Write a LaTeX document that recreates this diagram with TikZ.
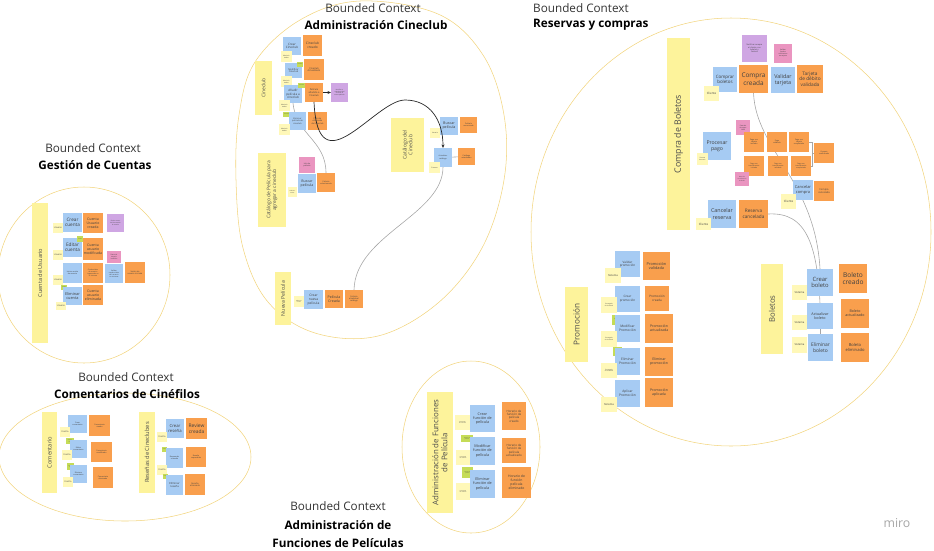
\documentclass[tikz,border=0pt]{standalone}
\usepackage{fontspec}
\setmainfont{Open Sans}
\usepackage{tikz}
\usetikzlibrary{arrows.meta}
\definecolor{ctxyellow}{HTML}{FDF39B}
\definecolor{actyellow}{HTML}{FFF8B8}
\definecolor{cmdblue}{HTML}{A6CBF3}
\definecolor{evtorange}{HTML}{F99F4D}
\definecolor{polpurple}{HTML}{CFA6E3}
\definecolor{hotpink}{HTML}{EA95C0}
\definecolor{agggreen}{HTML}{C5DC57}
\definecolor{bcgold}{HTML}{F2D47C}
\pgfdeclarelayer{bg}
\pgfsetlayers{bg,main}

\begin{document}
\begin{tikzpicture}[x=0.03cm,y=-0.03cm,
  wh/.style 2 args={minimum width=#1*0.03cm,minimum height=#2*0.03cm},
  fs/.style={font=\fontsize{#1}{#1}\linespread{1.15}\selectfont},
  note/.style={inner sep=0.3pt,outer sep=0pt,align=center,text=black!75},
  cmd/.style={note,fill=cmdblue},
  evt/.style={note,fill=evtorange},
  actor/.style={note,fill=actyellow,fs=1.4},
  pol/.style={note,fill=polpurple,fs=1.4},
  hot/.style={note,fill=hotpink,fs=1.4},
  agg/.style={note,fill=agggreen,fs=1},
  ctx/.style={note,fill=ctxyellow,rotate=90,text=black!70},
  bc/.style={draw=bcgold,line width=0.45pt},
  link/.style={draw=black!35,line width=0.5pt},
  flow/.style={draw=black!85,line width=0.6pt,-{Stealth[length=3pt,width=2.5pt]}},
  bctop/.style={font=\fontsize{10}{12}\selectfont,text=black!80,inner sep=0pt},
  bcname/.style={font=\fontsize{10}{12}\selectfont\bfseries,text=black,inner sep=0pt}]
  \useasboundingbox (0,0) rectangle (934,550);

  \node[bctop] (bcCuA) at (93,148) {Bounded Context};
  \node[bcname] (bcCuB) at (95,165) {Gestión de Cuentas};
  \node[bctop] (bcCcA) at (373,8) {Bounded Context};
  \node[bcname] (bcCcB) at (376,25) {Administración Cineclub};
  \node[bctop,anchor=west] (bcRcA) at (533,8) {Bounded Context};
  \node[bcname,anchor=west] (bcRcB) at (533,25) {Reservas y compras};
  \node[bctop] (bcCoA) at (126,377) {Bounded Context};
  \node[bcname] (bcCoB) at (127,394) {Comentarios de Cinéfilos};
  \node[bctop] (bcFuA) at (338,506) {Bounded Context};
  \node[bcname] (bcFuB) at (338,525) {Administración de};
  \node[bcname] (bcFuC) at (338,543) {Funciones de Películas};
  \node[font=\fontsize{10.5}{12}\selectfont,text=black!35] (miroMark) at (897,523) {miro};

  \node[ctx,wh={140}{16},fs=4.8] (cuBar) at (40,273) {Cuenta de Usuario};
  \node[cmd,wh={19}{19},fs=4] (cuCrear) at (72.5,222.5) {Crear\\cuenta};
  \node[evt,wh={20}{20},fs=3] (cuCreada) at (93,223) {Cuenta\\Usuario\\creada};
  \node[pol,wh={17}{18},fs=1.3] (cuPol) at (115.5,223) {Enviar correo\\de bienvenida\\al usuario};
  \node[actor,wh={10}{10},fs=1.9] (cuUs1) at (58,228) {Usuario};
  \node[cmd,wh={19}{19},fs=4] (cuEditar) at (72.5,247.5) {Editar\\cuenta};
  \node[agg,wh={6}{6}] (cuAgg1) at (80,239) {Cuenta};
  \node[evt,wh={20}{22},fs=3] (cuModif) at (93,249) {Cuenta\\usuario\\modificada};
  \node[hot,wh={14}{12}] (cuHot) at (114,257) {Datos de\\usuario\\inválidos};
  \node[actor,wh={10}{10},fs=1.9] (cuUs2) at (58,255) {Usuario};
  \node[cmd,wh={19}{20},fs=1.6] (cuLogin) at (72.5,273) {Iniciar sesión\\de usuario};
  \node[evt,wh={20}{20},fs=1.5] (cuSesion) at (93,273) {Credenciales\\de usuario\\ingresadas en\\el sistema};
  \node[cmd,wh={18}{19},fs=1.5] (cuValidar) at (114,273.5) {Validar\\credenciales\\del usuario\\en sistema};
  \node[evt,wh={20}{21},fs=1.7] (cuValidada) at (135,272.5) {Sesión de\\usuario iniciada};
  \node[actor,wh={10}{10},fs=1.9] (cuUs3) at (58,280) {Usuario};
  \node[agg,wh={6}{5}] (cuAgg2) at (64,287.5) {Cuenta};
  \node[cmd,wh={19}{18},fs=3.3] (cuEliminar) at (72.5,296) {Eliminar\\cuenta};
  \node[evt,wh={20}{20},fs=3] (cuEliminada) at (93,295) {Cuenta\\usuario\\eliminada};
  \node[actor,wh={10}{8},fs=1.9] (cuUs4) at (61,306) {Usuario};

  \node[ctx,wh={54}{17},fs=4.2] (ccBar) at (263.5,88) {Cineclub};
  \node[cmd,wh={18}{18},fs=2.6] (ccCrear) at (292,46) {Crear\\Cineclub};
  \node[evt,wh={19}{21},fs=2.8] (ccCreado) at (312.5,45.5) {Cineclub\\creado};
  \node[actor,wh={11}{11}] (ccAd1) at (286.5,56.5) {Adminis-\\trador};
  \node[cmd,wh={17}{15},fs=2] (ccModif) at (293.5,70.5) {Modificar\\Cineclub};
  \node[agg,wh={6}{5}] (ccAgg1) at (300,64.5) {Cineclub};
  \node[evt,wh={20}{21},fs=2] (ccActualizado) at (314,69.5) {Cineclub\\Actualizado};
  \node[actor,wh={11}{11}] (ccAd2) at (286.5,81.5) {Adminis-\\trador};
  \node[cmd,wh={18}{18},fs=2.6] (ccAnadir) at (293,94) {Añadir\\película a\\cineclub};
  \node[agg,wh={7}{5}] (ccAgg2) at (301.5,85.5) {Cineclub};
  \node[evt,wh={18}{19},fs=2] (ccAnadida) at (314,92.5) {Película\\añadida a\\Cineclub};
  \node[pol,wh={17}{19},fs=1.3] (ccPol) at (339.5,92.5) {Notificar a\\miembros del\\cineclub la\\nueva película};
  \node[actor,wh={11}{11}] (ccAd3) at (284.5,105.5) {Adminis-\\trador};
  \node[agg,wh={7}{5}] (ccAgg3) at (286.5,114.5) {Cineclub};
  \node[cmd,wh={17}{18},fs=1.8] (ccEliminar) at (297.5,121) {Eliminar\\película de\\cineclub};
  \node[evt,wh={19}{18},fs=1.8] (ccEliminada) at (317.5,121) {Película\\eliminada\\del cineclub};
  \node[actor,wh={11}{11}] (ccAd4) at (284.5,129.5) {Adminis-\\trador};

  \node[ctx,wh={54}{33},fs=4.3] (catBar) at (407.5,145) {Catálogo del\\Cineclub};
  \node[cmd,wh={18}{18},fs=3.1] (catBuscar) at (449,126) {Buscar\\película};
  \node[evt,wh={17}{16},fs=1.6] (catEncontrada) at (468.5,125) {Película\\encontrada};
  \node[actor,wh={10}{10}] (catUs) at (435,133) {Usuario};
  \node[cmd,wh={18}{19},fs=1.6] (catAct) at (443,157.5) {Actualizar\\catálogo};
  \node[evt,wh={17}{17},fs=1.6] (catActualizado) at (466.5,156.5) {Catálogo\\actualizado};
  \node[actor,wh={11}{11}] (catSis) at (434.5,167.5) {Sistema};

  \node[ctx,wh={74}{28},fs=4.2] (agBar) at (272,190) {Catálogo de Película para\\agregar a cineclub};
  \node[hot,wh={16}{16},fs=1.6] (agInfo) at (307,165) {Info de\\película};
  \node[cmd,wh={18}{19},fs=3] (agBuscar) at (307,183.5) {Buscar\\película};
  \node[evt,wh={18}{19},fs=1.6] (agSelec) at (326,182.5) {Película\\seleccionada};
  \node[actor,wh={9}{10},fs=1.2] (agAd) at (292.5,192) {Adminis-\\trador};

  \node[ctx,wh={53}{16},fs=4.4] (npBar) at (283,298.5) {Nueva Película};
  \node[actor,wh={10}{11},fs=1.2] (npAd) at (299,301.5) {Adminis-\\trador};
  \node[cmd,wh={19}{19},fs=2.8] (npCrear) at (313.5,299.5) {Crear\\nueva\\película};
  \node[evt,wh={18}{18},fs=3] (npCreada) at (334,299) {Película\\Creada};
  \node[evt,wh={18}{18},fs=1.7] (npCatalogo) at (354,299) {Película\\añadida al\\catálogo};

  \node[ctx,wh={192}{23},fs=7.5] (cbBar) at (678.5,134) {Compra de Boletos};
  \node[pol,wh={25}{27},fs=1.7] (cbPol) at (754.5,48.5) {Notificar compra\\al cliente, con\\boletos y\\factura};
  \node[hot,wh={18}{19},fs=1.5] (cbHot1) at (783,53.5) {Validar\\fondos\\suficientes\\en tarjeta};
  \node[cmd,wh={24}{25},fs=3.8] (cbComprar) at (725,79.5) {Comprar\\boletos};
  \node[evt,wh={29}{28},fs=5.5] (cbCreada) at (753.5,79) {Compra\\creada};
  \node[cmd,wh={24}{26},fs=4.6] (cbValidar) at (783,80) {Validar\\tarjeta};
  \node[evt,wh={26}{28},fs=4.1] (cbValidada) at (810,79) {Tarjeta\\de débito\\validada};
  \node[actor,wh={15}{15},fs=2.5] (cbCli1) at (711.5,93.5) {Cliente};
  \node[hot,wh={14}{15}] (cbHot2) at (743,127.5) {Pasarela\\de pagos\\caída};
  \node[cmd,wh={28}{28},fs=4.4] (cbProcesar) at (717,146) {Procesar\\pago};
  \node[actor,wh={11}{12},fs=1.3] (cbSis) at (702.5,159) {Sistema\\bancario};
  \node[evt,wh={20}{20},fs=1.6] (cbP1) at (754,142) {Pago con\\tarjeta\\iniciado};
  \node[evt,wh={20}{20},fs=1.6] (cbP2) at (777,142) {Pago\\validado};
  \node[evt,wh={20}{20},fs=1.6] (cbP3) at (799,142) {Pago con\\tarjeta\\completado};
  \node[evt,wh={20}{20},fs=1.6] (cbConf) at (824,153) {Compra\\confirmada};
  \node[evt,wh={20}{20},fs=1.5] (cbP4) at (754,166) {Pago con\\transferencia\\iniciado};
  \node[evt,wh={20}{20},fs=1.5] (cbP5) at (778,166) {Pago con\\transferencia\\validado};
  \node[evt,wh={20}{20},fs=1.5] (cbP6) at (801,166) {Pago con\\transferencia\\completado};
  \node[hot,wh={14}{14},fs=1.2] (cbHot3) at (742,179) {Datos de\\transferencia\\inválidos};
  \node[cmd,wh={20}{20},fs=3.4] (cbCancelar) at (803,190) {Cancelar\\compra};
  \node[evt,wh={20}{20},fs=2.1] (cbCancelada) at (824,191) {Compra\\cancelada};
  \node[actor,wh={15}{15},fs=2.5] (cbCli2) at (788.5,201.5) {Cliente};
  \node[cmd,wh={28}{28},fs=4.6] (cbCancRes) at (722,214) {Cancelar\\reserva};
  \node[evt,wh={29}{28},fs=4] (cbResCanc) at (753.5,214) {Reserva\\cancelada};
  \node[actor,wh={15}{12},fs=2.5] (cbCli3) at (703.5,224) {Cliente};

  \node[ctx,wh={90}{22},fs=6.6] (boBar) at (772,309) {Boletos};
  \node[cmd,wh={26}{27},fs=5] (boCrear) at (820,282.5) {Crear\\boleto};
  \node[evt,wh={28}{29},fs=5.6] (boCreado) at (853,278.5) {Boleto\\creado};
  \node[actor,wh={15}{15},fs=2.3] (boSis1) at (799.5,292.5) {Sistema};
  \node[cmd,wh={26}{26},fs=3.2] (boAct) at (820,316) {Actualizar\\boleto};
  \node[evt,wh={28}{29},fs=3.1] (boActualizado) at (855,313.5) {Boleto\\actualizado};
  \node[actor,wh={15}{15},fs=2.3] (boSis2) at (799.5,322.5) {Sistema};
  \node[cmd,wh={25}{27},fs=4.2] (boElim) at (820.5,347.5) {Eliminar\\boleto};
  \node[evt,wh={28}{29},fs=3.5] (boEliminado) at (855,347.5) {Boleto\\eliminado};
  \node[actor,wh={15}{16},fs=2.3] (boSis3) at (799.5,345) {Sistema};

  \node[ctx,wh={75}{23},fs=7] (prBar) at (576.5,324.5) {Promoción};
  \node[cmd,wh={25}{26},fs=2.6] (prValidar) at (627.5,264) {Validar\\promoción};
  \node[evt,wh={27}{28},fs=3.3] (prValidada) at (656.5,266) {Promoción\\validada};
  \node[actor,wh={16}{15},fs=2.3] (prSis1) at (613,275.5) {Sistema};
  \node[cmd,wh={25}{26},fs=2.6] (prCrear) at (627.5,299) {Crear\\promoción};
  \node[evt,wh={24}{25},fs=2.6] (prCreada) at (657,298.5) {Promoción\\creada};
  \node[actor,wh={16}{16},fs=1.3] (prEnc1) at (609,305) {Encargado\\de cineclub};
  \node[agg,wh={10}{10},fs=1.2] (prAgg1) at (617,320) {Promo-\\ción};
  \node[cmd,wh={25}{27},fs=2.8] (prModif) at (627.5,328.5) {Modificar\\Promoción};
  \node[evt,wh={28}{29},fs=3] (prActualizada) at (659,328.5) {Promoción\\actualizada};
  \node[actor,wh={16}{16},fs=1.3] (prEnc2) at (609,339) {Encargado\\de cineclub};
  \node[agg,wh={9}{9},fs=1.2] (prAgg2) at (617.5,351.5) {Promo-\\ción};
  \node[cmd,wh={25}{27},fs=2.8] (prElim) at (627.5,361.5) {Eliminar\\Promoción};
  \node[evt,wh={28}{29},fs=3] (prEliminada) at (659,361.5) {Eliminar\\promoción};
  \node[actor,wh={16}{15},fs=1.3] (prEnc3) at (609,370.5) {Encargado\\de cineclub};
  \node[cmd,wh={25}{27},fs=2.8] (prAplicar) at (627.5,393.5) {Aplicar\\Promoción};
  \node[evt,wh={28}{29},fs=3] (prAplicada) at (659,392.5) {Promoción\\aplicada};
  \node[actor,wh={16}{15},fs=2.3] (prSis2) at (609,404.5) {Sistema};

  \node[ctx,wh={81}{15},fs=4.9] (coBar) at (49.5,452.5) {Comentario};
  \node[cmd,wh={19}{18},fs=1.6] (coCrear) at (77.5,424) {Crear\\comentario};
  \node[evt,wh={21}{21},fs=1.6] (coCreado) at (99.5,425.5) {Comentario\\creado};
  \node[actor,wh={10}{10},fs=1.8] (coCin1) at (65,432) {Cinéfilo};
  \node[agg,wh={8}{6}] (coAgg1) at (70,441) {Comen-\\tario};
  \node[cmd,wh={17}{18},fs=1.6] (coEditar) at (78.5,449) {Editar\\comentario};
  \node[evt,wh={21}{20},fs=1.6] (coModif) at (101.5,452) {Comentario\\modificado};
  \node[actor,wh={10}{10},fs=1.8] (coCin2) at (67,455) {Cinéfilo};
  \node[agg,wh={7}{7}] (coAgg2) at (70.5,466.5) {Comen-\\tario};
  \node[cmd,wh={17}{18},fs=1.6] (coElim) at (78.5,474) {Eliminar\\comentario};
  \node[evt,wh={20}{21},fs=1.6] (coEliminado) at (103,477.5) {Comentario\\eliminado};
  \node[actor,wh={10}{10},fs=1.8] (coCin3) at (68,482) {Cinéfilo};

  \node[ctx,wh={81}{16},fs=4.9] (reBar) at (147,452.5) {Reseñas de Cineclubes};
  \node[cmd,wh={18}{19},fs=3.6] (reCrear) at (175,428.5) {Crear\\reseña};
  \node[evt,wh={21}{21},fs=4.2] (reCreada) at (196.5,428.5) {Review\\creada};
  \node[actor,wh={10}{10},fs=1.8] (reCin1) at (162,437) {Cinéfilo};
  \node[agg,wh={5}{5},fs=0.8] (reAgg1) at (164.5,449.5) {Reseña};
  \node[cmd,wh={17}{20},fs=1.6] (reResp) at (174.5,458) {Responder\\a reseña};
  \node[evt,wh={20}{20},fs=1.6] (reRespondida) at (196,457) {Reseña\\respondida};
  \node[actor,wh={10}{10},fs=1.8] (reCin2) at (162,470) {Cinéfilo};
  \node[agg,wh={5}{5},fs=0.8] (reAgg2) at (165.5,476.5) {Reseña};
  \node[cmd,wh={17}{20},fs=2.3] (reElim) at (174.5,485) {Eliminar\\reseña};
  \node[evt,wh={20}{21},fs=1.8] (reEliminada) at (195,484.5) {Reseña\\eliminada};

  \node[ctx,wh={121}{26},fs=6.7] (fuBar) at (440,452.5) {Administración de Funciones\\de Película};
  \node[cmd,wh={25}{27},fs=3.2] (fuCrear) at (482.5,418.5) {Crear\\función de\\película};
  \node[evt,wh={24}{28},fs=2.5] (fuCreado) at (514,416) {Horario de\\función de\\película\\creado};
  \node[actor,wh={15}{15},fs=1.1] (fuEnc1) at (462.5,422.5) {Encargado\\de cineclub};
  \node[agg,wh={12}{7},fs=1] (fuAgg1) at (467,438.5) {Función de\\película};
  \node[cmd,wh={25}{28},fs=3.2] (fuModif) at (482.5,451) {Modificar\\función de\\película};
  \node[evt,wh={24}{25},fs=2.5] (fuActualizado) at (514,450.5) {Horario de\\función de\\película\\actualizado};
  \node[actor,wh={14}{15},fs=1.1] (fuEnc2) at (463,457.5) {Encargado\\de cineclub};
  \node[agg,wh={11}{11},fs=1] (fuAgg2) at (467.5,472.5) {Función de\\película};
  \node[cmd,wh={25}{28},fs=3.2] (fuElim) at (482.5,484) {Eliminar\\función de\\película};
  \node[evt,wh={29}{31},fs=2.9] (fuEliminado) at (516.5,482.5) {Horario de\\función\\película\\eliminado};
  \node[actor,wh={14}{17},fs=1.1] (fuEnc3) at (463,491.5) {Encargado\\de cineclub};

  \begin{pgfonlayer}{bg}
    \draw[bc] (84,275) ellipse [x radius=86,y radius=88];
    \draw[bc] plot[smooth cycle,tension=0.6] coordinates {(360,1) (438,14) (483,55) (504,115) (504,180) (482,248) (438,303) (378,336) (315,333) (268,302) (243,248) (236,180) (239,115) (255,62) (300,20)};
    \draw[bc] (731,232) ellipse [x radius=200,y radius=214];
    \draw[bc] (125,457) ellipse [x radius=126,y radius=64];
    \draw[bc] (471,447) ellipse [x radius=69,y radius=86];
    \draw[link] (ccAnadir.south) .. controls (296,135) and (326,140) .. (agSelec.north);
    \draw[link] (catAct) -- (catActualizado);
    \draw[link] (catAct.south) .. controls (443,215) and (355,235) .. (npCatalogo.north);
    \draw[link] (cbCreada.south) .. controls (756,150) and (815,180) .. (boCrear.north);
    \draw[link] (cbResCanc.east) .. controls (805,212) and (821,240) .. (boElim.north);
    \draw[link] (cbP3.east) -- ++(3,0) |- (cbConf.west);
    \draw[link] (cbP6.east) -- ++(1.5,0) |- (cbConf.west);
  \end{pgfonlayer}
  \draw[flow] (ccAnadida) -- (ccPol);
  \draw[flow] (ccAnadida.south) .. controls (318,190) and (375,100) .. (405,100) .. controls (430,100) and (443,120) .. (catAct.north);
\end{tikzpicture}
\end{document}
